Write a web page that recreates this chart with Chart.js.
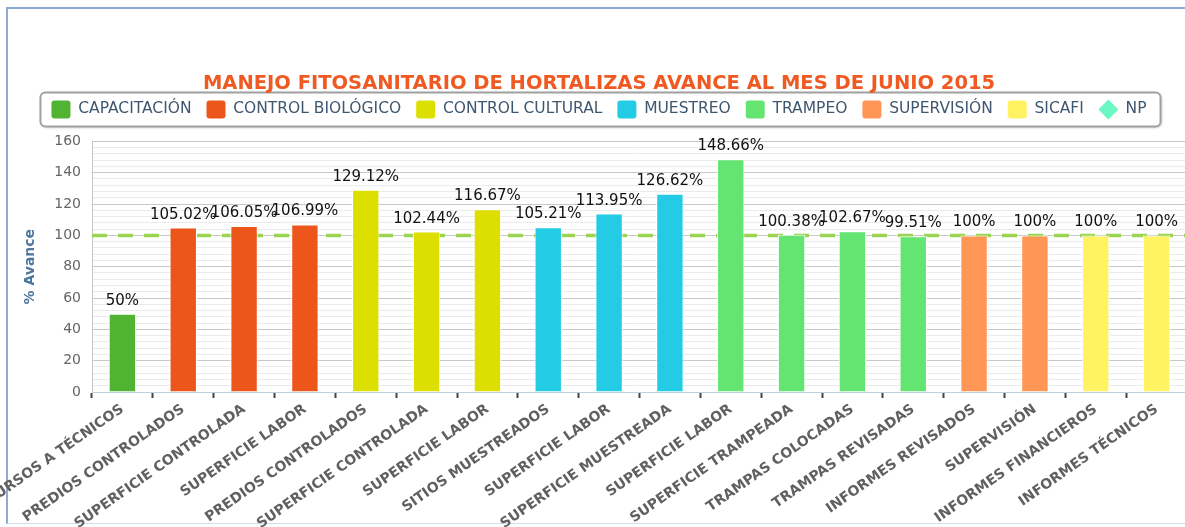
<!DOCTYPE html>
<html>
<head>
<meta charset="utf-8">
<title>Manejo fitosanitario de hortalizas</title>
<script src="https://cdn.jsdelivr.net/npm/chart.js@4/dist/chart.umd.min.js"></script>
<style>
  html, body { margin: 0; padding: 0; background: #fff; overflow: hidden; }
  #frame {
    position: absolute; left: 6px; top: 7px; width: 1200px; height: 514px;
    border-top: 2px solid #8eacd2; border-left: 2px solid #8eacd2; border-bottom: 1px solid #d4dfed;
  }
  #wrap { position: absolute; left: 0; top: 0; width: 1187px; height: 527px; }
</style>
</head>
<body>
<div id="frame"></div>
<div id="wrap"><canvas id="avance" width="1187" height="527"></canvas></div>
<script>
// actividades (eje x)
const actividades = [
  "CURSOS A TÉCNICOS", "PREDIOS CONTROLADOS", "SUPERFICIE CONTROLADA", "SUPERFICIE LABOR",
  "PREDIOS CONTROLADOS", "SUPERFICIE CONTROLADA", "SUPERFICIE LABOR",
  "SITIOS MUESTREADOS", "SUPERFICIE LABOR", "SUPERFICIE MUESTREADA",
  "SUPERFICIE LABOR", "SUPERFICIE TRAMPEADA", "TRAMPAS COLOCADAS", "TRAMPAS REVISADAS",
  "INFORMES REVISADOS", "SUPERVISIÓN", "INFORMES FINANCIEROS", "INFORMES TÉCNICOS"
];
// % de avance de cada actividad
const avance = [50, 105.02, 106.05, 106.99, 129.12, 102.44, 116.67, 105.21, 113.95, 126.62,
                148.66, 100.38, 102.67, 99.51, 100, 100, 100, 100];
// programa al que pertenece cada actividad
const programaDe = [0, 1, 1, 1, 2, 2, 2, 3, 3, 3, 4, 4, 4, 4, 5, 5, 6, 6];
const programas = ["CAPACITACIÓN", "CONTROL BIOLÓGICO", "CONTROL CULTURAL", "MUESTREO",
                   "TRAMPEO", "SUPERVISIÓN", "SICAFI"];
const colores = ["#50B432", "#ED561B", "#DDDF00", "#24CBE5", "#64E572", "#FF9655", "#FFF263"];
// meta NP (100%)
const metaNP = [100, 100, 100, 100, 100, 100, 100, 100, 100, 100, 100, 100, 100, 100, 100, 100, 100, 100];

const fuente = "'DejaVu Sans', Verdana, sans-serif";

const datasets = programas.map((p, k) => ({
  label: p,
  data: avance.map((v, i) => (programaDe[i] === k ? v : null)),
  backgroundColor: colores[k],
  borderColor: "#ffffff",
  borderWidth: 1,
  grouped: false,
  barPercentage: 0.45,
  categoryPercentage: 1,
  order: 1
}));

datasets.push({
  type: "line",
  label: "NP",
  data: metaNP,
  xAxisID: "xNp",
  borderColor: "#9bd452",
  backgroundColor: "#6AF9C4",
  borderWidth: 3.5,
  borderDash: [15, 11],
  pointRadius: 0,
  fill: false,
  order: 10
});

// recuadro de la leyenda
const marcoLeyenda = {
  id: "marcoLeyenda",
  beforeDraw(chart) {
    const hb = chart.legend && chart.legend.legendHitBoxes;
    if (!hb || !hb.length) return;
    const last = hb[hb.length - 1];
    const x0 = hb[0].left - 11, x1 = last.left + last.width + 14;
    const y0 = hb[0].top - 8, y1 = hb[0].top + hb[0].height + 8;
    const ctx = chart.ctx;
    ctx.save();
    ctx.shadowColor = "rgba(0,0,0,0.25)";
    ctx.shadowOffsetX = 1;
    ctx.shadowOffsetY = 1;
    ctx.shadowBlur = 3;
    ctx.beginPath();
    ctx.roundRect(x0, y0, x1 - x0, y1 - y0, 5);
    ctx.fillStyle = "#fff";
    ctx.fill();
    ctx.shadowColor = "transparent";
    ctx.lineWidth = 2;
    ctx.strokeStyle = "#a0a0a0";
    ctx.stroke();
    ctx.restore();
  },
  afterDraw(chart) {
    // rombo del NP
    const hb = chart.legend && chart.legend.legendHitBoxes;
    if (!hb || !hb.length) return;
    const b = hb[hb.length - 1];
    const cx = b.left + 9.5, cy = b.top + b.height / 2, r = 10;
    const ctx = chart.ctx;
    ctx.save();
    ctx.beginPath();
    ctx.moveTo(cx, cy - r);
    ctx.lineTo(cx + r, cy);
    ctx.lineTo(cx, cy + r);
    ctx.lineTo(cx - r, cy);
    ctx.closePath();
    ctx.fillStyle = "#6AF9C4";
    ctx.fill();
    ctx.restore();
  }
};

// etiquetas de porcentaje
const etiquetas = {
  id: "etiquetas",
  afterDatasetsDraw(chart) {
    const ctx = chart.ctx;
    ctx.save();
    ctx.font = "15px " + fuente;
    ctx.fillStyle = "#111";
    ctx.textAlign = "center";
    ctx.textBaseline = "alphabetic";
    chart.data.datasets.forEach((ds, d) => {
      if (ds.type === "line") return;
      chart.getDatasetMeta(d).data.forEach((bar, i) => {
        const v = ds.data[i];
        if (v == null) return;
        ctx.fillText(v + "%", bar.x, bar.y - 9);
      });
    });
    ctx.restore();
  }
};

new Chart(document.getElementById("avance"), {
  type: "bar",
  data: { labels: actividades, datasets: datasets },
  options: {
    responsive: false,
    animation: false,
    devicePixelRatio: 1,
    layout: { autoPadding: false, padding: { left: 11, top: 0, right: 0, bottom: 0 } },
    plugins: {
      title: {
        display: true,
        text: "MANEJO FITOSANITARIO DE HORTALIZAS AVANCE AL MES DE JUNIO 2015",
        color: "#F05A22",
        font: { family: fuente, size: 19.5, weight: "bold" },
        padding: { top: 72, bottom: -10 }
      },
      legend: {
        display: true,
        labels: {
          color: "#3E576F",
          font: { family: fuente, size: 15.5 },
          boxWidth: 19,
          boxHeight: 18,
          padding: 15,
          useBorderRadius: true,
          borderRadius: 3,
          generateLabels(chart) {
            return Chart.defaults.plugins.legend.labels.generateLabels(chart).map(it => {
              it.lineWidth = 0;
              if (it.text === "NP") {
                it.fillStyle = "rgba(0,0,0,0)";
                it.strokeStyle = "rgba(0,0,0,0)";
              }
              return it;
            });
          }
        }
      },
      tooltip: { enabled: false }
    },
    scales: {
      x: {
        type: "category",
        offset: true,
        grid: { display: true, offset: true, drawOnChartArea: false, drawTicks: true,
                tickLength: 6, tickColor: "#444", tickWidth: 2 },
        border: { display: true, color: "#C0D0E0", width: 1 },
        ticks: {
          autoSkip: false, minRotation: 35, maxRotation: 35, padding: 3,
          color: "#606060", font: { family: fuente, size: 14, weight: "bold" }
        },
        afterFit(s) { s.height = 135; s.paddingLeft = 0; s.paddingRight = 0; }
      },
      xNp: { type: "category", offset: false, display: false },
      xTop: {
        type: "category", position: "top", display: true,
        grid: { display: false }, border: { display: false }, ticks: { display: false },
        afterFit(s) { s.height = 13; }
      },
      y: {
        type: "linear", position: "left", min: 0, max: 160,
        ticks: { stepSize: 20, padding: 11, color: "#666", font: { family: fuente, size: 14 } },
        grid: { color: "#C8C8C8", drawTicks: false },
        border: { display: true, color: "#C8C8C8" },
        title: {
          display: true, text: "% Avance", color: "#4D759E",
          font: { family: fuente, size: 14, weight: "bold" }, padding: { top: 11, bottom: 0 }
        },
        afterFit(s) { s.width = 81; }
      },
      yMenor: {
        type: "linear", position: "left", min: 0, max: 160, display: true,
        ticks: { display: false, stepSize: 4 },
        grid: {
          drawTicks: false,
          color: c => (c.tick && c.tick.value % 20 === 0 ? "rgba(0,0,0,0)" : "#EBEBEB")
        },
        border: { display: false },
        afterFit(s) { s.width = 0; }
      }
    }
  },
  plugins: [marcoLeyenda, etiquetas]
});
</script>
</body>
</html>
